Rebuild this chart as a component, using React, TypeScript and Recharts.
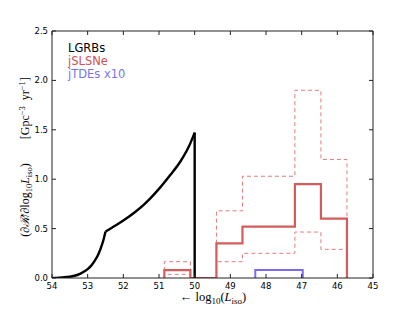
import { ComposedChart, Line, XAxis, YAxis } from "recharts";

// LGRB rate curve (log10 L_iso, rate)
const lgrbRiseLogL = [54.0, 53.8, 53.6, 53.4, 53.2, 53.0, 52.9, 52.8, 52.7, 52.6, 52.55, 52.5];
const lgrbRiseRate = [0.0, 0.003, 0.01, 0.02, 0.045, 0.09, 0.125, 0.175, 0.24, 0.335, 0.395, 0.47];
const lgrbTailLogL = [52.5, 52.23, 52.0, 51.67, 51.4, 51.25, 50.97, 50.69, 50.4, 50.17, 50.0];
const lgrbTailRate = [0.47, 0.528, 0.581, 0.668, 0.751, 0.804, 0.915, 1.04, 1.179, 1.325, 1.472];
const lgrbCutLogL = [50.0, 50.0];
const lgrbCutRate = [1.472, 0.0];

// jSLSNe histogram: bin edges and rates with upper / lower bounds
const slsneEdges = [50.85, 50.12, 49.39, 48.66, 47.92, 47.19, 46.46, 45.73];
const slsneRate = [0.08, 0.0, 0.35, 0.52, 0.52, 0.95, 0.6];
const slsneUpper = [0.165, 0.0, 0.68, 1.03, 1.03, 1.9, 1.2];
const slsneLower = [0.037, 0.0, 0.165, 0.25, 0.25, 0.465, 0.29];

// jTDEs x10
const tdeEdges = [48.3, 46.97];
const tdeRate = [0.08];

const xTicks = [54, 53, 52, 51, 50, 49, 48, 47, 46, 45];
const yTicks = [0, 0.5, 1.0, 1.5, 2.0, 2.5];

const W = 415;
const H = 310;
const LEFT = 52;
const RIGHT = 373;
const TOP = 31;
const BOTTOM = 278;

const RED = "#d45c5c";
const RED_DASH = "#e27c7c";
const BLUE = "#7a6cf0";
const FRAME = "#222";

function toPoints(xs: number[], ys: number[]) {
  return xs.map((x, i) => ({ x, y: ys[i] }));
}

// histogram outline, closed to zero at both ends (drawn with stepAfter)
function stepPoints(edges: number[], vals: number[]) {
  const pts = [{ x: edges[0], y: 0 }];
  vals.forEach((v, i) => pts.push({ x: edges[i], y: v }));
  pts.push({ x: edges[edges.length - 1], y: 0 });
  return pts;
}

const BottomTick = (props: any) => {
  const { x, payload } = props;
  return (
    <g>
      <line x1={x} x2={x} y1={BOTTOM} y2={BOTTOM - 4} stroke={FRAME} strokeWidth={1} />
      <text x={x} y={289} textAnchor="middle" fontSize={8.5} fontFamily="DejaVu Sans" fill="#000">
        {payload.value}
      </text>
    </g>
  );
};

const TopTick = (props: any) => {
  const { x } = props;
  return <line x1={x} x2={x} y1={TOP} y2={TOP + 4} stroke={FRAME} strokeWidth={1} />;
};

const LeftTick = (props: any) => {
  const { y, payload } = props;
  return (
    <g>
      <line x1={LEFT} x2={LEFT + 4} y1={y} y2={y} stroke={FRAME} strokeWidth={1} />
      <text x={48} y={y + 3} textAnchor="end" fontSize={8.5} fontFamily="DejaVu Sans" fill="#000">
        {payload.value.toFixed(1)}
      </text>
    </g>
  );
};

const RightTick = (props: any) => {
  const { y } = props;
  return <line x1={RIGHT} x2={RIGHT - 4} y1={y} y2={y} stroke={FRAME} strokeWidth={1} />;
};

export default function App() {
  const rise = toPoints(lgrbRiseLogL, lgrbRiseRate);
  const tail = toPoints(lgrbTailLogL, lgrbTailRate);
  const cut = toPoints(lgrbCutLogL, lgrbCutRate);
  const slsne = stepPoints(slsneEdges, slsneRate);
  const upper = stepPoints(slsneEdges, slsneUpper);
  const lower = stepPoints(slsneEdges, slsneLower);
  const tde = stepPoints(tdeEdges, tdeRate);

  return (
    <div style={{ position: "absolute", left: 0, top: 0, width: W, height: H, background: "#fff" }}>
      <ComposedChart
        width={W}
        height={H}
        margin={{ top: TOP - 1, right: W - RIGHT - 1, bottom: H - BOTTOM - 1, left: LEFT - 1 }}
      >
        <XAxis
          xAxisId="b"
          dataKey="x"
          type="number"
          domain={[45, 54]}
          reversed
          allowDataOverflow
          ticks={xTicks}
          interval={0}
          height={1}
          tickLine={false}
          tick={<BottomTick />}
          axisLine={{ stroke: FRAME, strokeWidth: 1 }}
        />
        <XAxis
          xAxisId="t"
          orientation="top"
          dataKey="x"
          type="number"
          domain={[45, 54]}
          reversed
          allowDataOverflow
          ticks={xTicks}
          interval={0}
          height={1}
          tickLine={false}
          tick={<TopTick />}
          axisLine={{ stroke: FRAME, strokeWidth: 1 }}
        />
        <YAxis
          yAxisId="l"
          type="number"
          domain={[0, 2.5]}
          allowDataOverflow
          ticks={yTicks}
          interval={0}
          width={1}
          tickLine={false}
          tick={<LeftTick />}
          axisLine={{ stroke: FRAME, strokeWidth: 1 }}
        />
        <YAxis
          yAxisId="r"
          orientation="right"
          type="number"
          domain={[0, 2.5]}
          allowDataOverflow
          ticks={yTicks}
          interval={0}
          width={1}
          tickLine={false}
          tick={<RightTick />}
          axisLine={{ stroke: FRAME, strokeWidth: 1 }}
        />

        <Line data={upper} xAxisId="b" yAxisId="l" dataKey="y" type="stepAfter" stroke={RED_DASH} strokeWidth={1} strokeDasharray="4 3" dot={false} isAnimationActive={false} />
        <Line data={lower} xAxisId="b" yAxisId="l" dataKey="y" type="stepAfter" stroke={RED_DASH} strokeWidth={1} strokeDasharray="4 3" dot={false} isAnimationActive={false} />
        <Line data={slsne} xAxisId="b" yAxisId="l" dataKey="y" type="stepAfter" stroke={RED} strokeWidth={2.2} dot={false} isAnimationActive={false} />
        <Line data={tde} xAxisId="b" yAxisId="l" dataKey="y" type="stepAfter" stroke={BLUE} strokeWidth={2} dot={false} isAnimationActive={false} />
        <Line data={rise} xAxisId="b" yAxisId="l" dataKey="y" type="monotone" stroke="#000" strokeWidth={2.4} dot={false} isAnimationActive={false} />
        <Line data={tail} xAxisId="b" yAxisId="l" dataKey="y" type="monotone" stroke="#000" strokeWidth={2.4} dot={false} isAnimationActive={false} />
        <Line data={cut} xAxisId="b" yAxisId="l" dataKey="y" type="linear" stroke="#000" strokeWidth={2.4} dot={false} isAnimationActive={false} />
      </ComposedChart>

      <svg width={W} height={H} style={{ position: "absolute", left: 0, top: 0, pointerEvents: "none" }}>
        <g fontFamily="DejaVu Sans" fontSize={11.5}>
          <text x={68} y={52} fill="#000">LGRBs</text>
          <text x={68} y={65} fill="#d05252">jSLSNe</text>
          <text x={68} y={78} fill="#7676ee">jTDEs x10</text>
        </g>
        <text x={213} y={301} textAnchor="middle" fontFamily="Liberation Serif" fontSize={12.5} fill="#000">
          {"\u2190 log"}
          <tspan fontSize={9} dy={3}>10</tspan>
          <tspan dy={-3}>(</tspan>
          <tspan fontStyle="italic">L</tspan>
          <tspan fontSize={9} dy={3}>iso</tspan>
          <tspan dy={-3}>)</tspan>
        </text>
        <text
          transform="translate(29,157) rotate(-90)"
          textAnchor="middle"
          fontFamily="Liberation Serif"
          fontSize={12}
          fill="#000"
        >
          {"(\u2202"}
          <tspan fontStyle="italic">{"\u211B"}</tspan>
          {"/\u2202log"}
          <tspan fontSize={8.5} dy={2.5}>10</tspan>
          <tspan fontStyle="italic" dy={-2.5}>L</tspan>
          <tspan fontSize={8.5} dy={2.5}>iso</tspan>
          <tspan dy={-2.5}>{")\u2003\u2003[Gpc"}</tspan>
          <tspan fontSize={8.5} dy={-4.5}>{"\u22123"}</tspan>
          <tspan dy={4.5}>{"\u2002yr"}</tspan>
          <tspan fontSize={8.5} dy={-4.5}>{"\u22121"}</tspan>
          <tspan dy={4.5}>]</tspan>
        </text>
      </svg>
    </div>
  );
}
